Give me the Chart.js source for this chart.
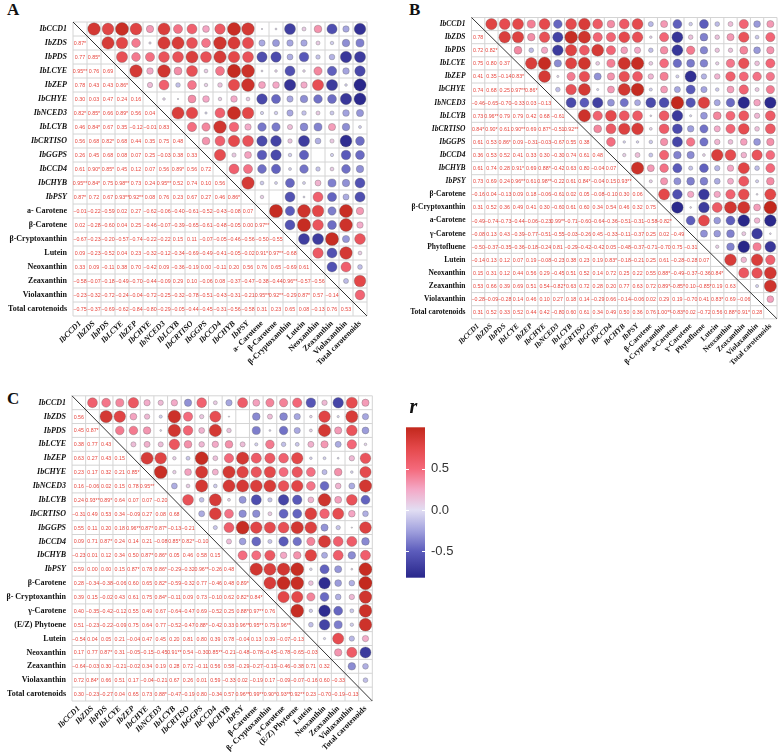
<!DOCTYPE html>
<html>
<head>
<meta charset="utf-8">
<script src="https://cdn.jsdelivr.net/npm/chart.js@4.4.1/dist/chart.umd.min.js"></script>
<style>
  body { margin: 0; background: #fff; width: 784px; height: 753px; position: relative; overflow: hidden; }
  canvas { position: absolute; }
  .tag { position: absolute; font: bold 17px "Liberation Serif", serif; color: #111; line-height: 17px; }
</style>
</head>
<body>
<div class="tag" style="left:7px;top:1px">A</div>
<div class="tag" style="left:409px;top:1px">B</div>
<div class="tag" style="left:7px;top:390px">C</div>
<canvas id="chartA" width="380" height="380" style="left:0;top:0"></canvas>
<canvas id="chartB" width="384" height="380" style="left:400px;top:0"></canvas>
<canvas id="chartC" width="385" height="368" style="left:0;top:385px"></canvas>
<canvas id="colorBar" width="85" height="200" style="left:395px;top:395px"></canvas>
<script>
// gene names shared by all three panels
const genes = ["IbCCD1", "IbZDS", "IbPDS", "IbLCYE", "IbZEP", "IbCHYE", "IbNCED3",
  "IbLCYB", "IbCRTISO", "IbGGPS", "IbCCD4", "IbCHYB", "IbPSY"];

const labelsA = genes.concat(["a- Carotene", "β-Carotene", "β-Cryptoxanthin", "Lutein",
  "Neoxanthin", "Zeaxanthin", "Violaxanthin", "Total carotenoids"]);
const labelsB = genes.concat(["β-Carotene", "β-Cryptoxanthin", "a-Carotene", "γ-Carotene",
  "Phytofluene", "Lutein", "Neoxanthin", "Zeaxanthin", "Violaxanthin", "Total carotenoids"]);
const labelsC = genes.concat(["β-Carotene", "β- Cryptoxanthin", "γ-Carotene", "(E/Z) Phytoene",
  "Lutein", "Neoxanthin", "Zeaxanthin", "Violaxanthin", "Total carotenoids"]);

// lower triangle, row by row, as printed (r value + significance stars)
const rowsA = [
  [],
  ["0.87*"],
  ["0.77", "0.85*"],
  ["0.95**", "0.76", "0.69"],
  ["0.78", "0.43", "0.43", "0.86*"],
  ["0.30", "0.03", "0.47", "0.24", "0.16"],
  ["0.82*", "0.85*", "0.66", "0.89*", "0.56", "0.04"],
  ["0.46", "0.84*", "0.67", "0.35", "-0.12", "-0.01", "0.83"],
  ["0.56", "0.68", "0.82*", "0.68", "0.44", "0.35", "0.75", "0.48"],
  ["0.26", "0.45", "0.68", "0.08", "0.07", "0.25", "-0.03", "0.38", "0.33"],
  ["0.61", "0.90*", "0.85*", "0.45", "0.12", "0.07", "0.56", "0.89*", "0.56", "0.72"],
  ["0.95**", "0.84*", "0.75", "0.98**", "0.73", "0.24", "0.95**", "0.52", "0.74", "0.10", "0.56"],
  ["0.87*", "0.72", "0.67", "0.93**", "0.92**", "0.08", "0.76", "0.23", "0.67", "0.27", "0.46", "0.86*"],
  ["-0.01", "-0.22", "-0.59", "0.02", "0.27", "-0.62", "-0.06", "-0.40", "-0.61", "-0.52", "-0.43", "-0.08", "0.07"],
  ["0.02", "-0.28", "-0.60", "0.04", "0.25", "-0.46", "-0.07", "-0.39", "-0.65", "-0.61", "-0.48", "-0.05", "0.00", "0.97**"],
  ["-0.67", "-0.23", "-0.20", "-0.57", "-0.74", "-0.22", "-0.22", "0.15", "0.11", "-0.07", "-0.05", "-0.46", "-0.56", "-0.50", "-0.55"],
  ["0.09", "-0.23", "-0.52", "0.04", "0.23", "-0.32", "-0.12", "-0.34", "-0.69", "-0.49", "-0.41", "-0.05", "-0.02", "0.91*", "0.97**", "-0.68"],
  ["0.33", "0.09", "-0.11", "0.38", "0.70", "-0.42", "0.09", "-0.36", "-0.19", "0.00", "-0.11", "0.20", "0.56", "0.76", "0.65", "-0.69", "0.61"],
  ["-0.58", "-0.07", "-0.18", "-0.49", "-0.70", "-0.44", "-0.09", "0.29", "0.10", "-0.06", "0.08", "-0.37", "-0.47", "-0.38", "-0.44", "0.96**", "-0.57", "-0.56"],
  ["-0.23", "-0.32", "-0.72", "-0.24", "-0.04", "-0.72", "-0.25", "-0.32", "-0.78", "-0.51", "-0.43", "-0.31", "-0.21", "0.95**", "0.92**", "-0.29", "0.87*", "0.57", "-0.14"],
  ["-0.75", "-0.37", "-0.69", "-0.62", "-0.84", "-0.80", "-0.29", "-0.05", "-0.44", "-0.45", "-0.31", "-0.56", "-0.58", "0.31", "0.23", "0.65", "0.08", "-0.13", "0.76", "0.53"]
];

const rowsB = [
  [],
  ["0.78"],
  ["0.72", "0.82*"],
  ["0.75", "0.80", "0.37"],
  ["0.41", "0.35", "-0.14", "0.83*"],
  ["0.74", "0.68", "0.25", "0.97**", "0.86*"],
  ["-0.46", "-0.65", "-0.70", "-0.33", "0.03", "-0.13"],
  ["0.73", "0.96**", "0.79", "0.79", "0.42", "0.68", "-0.61"],
  ["0.84*", "0.90*", "0.61", "0.90**", "0.69", "0.87*", "-0.51", "0.92**"],
  ["0.61", "0.53", "0.86*", "0.09", "-0.31", "-0.03", "-0.67", "0.55", "0.38"],
  ["0.36", "0.53", "0.52", "0.41", "0.33", "0.30", "-0.30", "0.74", "0.61", "0.48"],
  ["0.61", "0.74", "0.28", "0.91*", "0.69", "0.88*", "-0.42", "0.63", "0.80", "-0.04", "0.07"],
  ["0.73", "0.69", "0.24", "0.96**", "0.61", "0.98**", "-0.22", "0.61", "0.84*", "-0.04", "0.15", "0.93**"],
  ["-0.16", "0.04", "-0.13", "0.09", "0.18", "-0.06", "-0.61", "0.02", "0.05", "-0.08", "-0.10", "0.30", "0.06"],
  ["0.31", "0.52", "0.36", "0.49", "0.41", "0.30", "-0.60", "0.61", "0.60", "0.34", "0.54", "0.46", "0.32", "0.75"],
  ["-0.49", "-0.74", "-0.73", "-0.44", "-0.06", "-0.23", "0.99**", "-0.71", "-0.60", "-0.64", "-0.36", "-0.51", "-0.31", "-0.58", "-0.82*"],
  ["-0.08", "0.13", "0.43", "-0.39", "-0.77", "-0.51", "-0.55", "-0.03", "-0.26", "0.45", "-0.33", "-0.11", "-0.37", "0.25", "0.02", "-0.49"],
  ["-0.50", "-0.37", "-0.35", "-0.36", "-0.18", "-0.24", "0.81", "-0.29", "-0.42", "-0.42", "0.05", "-0.48", "-0.37", "-0.71", "-0.70", "0.75", "-0.31"],
  ["-0.14", "0.13", "0.12", "0.07", "0.19", "-0.08", "-0.23", "0.38", "0.23", "0.19", "0.83*", "-0.18", "-0.21", "0.25", "0.61", "-0.28", "-0.28", "0.07"],
  ["0.15", "0.31", "0.12", "0.44", "0.56", "0.29", "-0.45", "0.51", "0.52", "0.14", "0.72", "0.25", "0.22", "0.55", "0.88*", "-0.49", "-0.37", "-0.36", "0.84*"],
  ["0.53", "0.66", "0.39", "0.69", "0.51", "0.54", "-0.82*", "0.63", "0.72", "0.28", "0.20", "0.77", "0.63", "0.72", "0.89*", "-0.85*", "0.10", "-0.85*", "0.19", "0.63"],
  ["-0.28", "-0.09", "-0.28", "0.14", "0.46", "0.10", "0.27", "0.18", "0.14", "-0.29", "0.66", "-0.14", "-0.06", "0.02", "0.29", "0.19", "-0.70", "0.41", "0.83*", "0.69", "-0.06"],
  ["0.31", "0.52", "0.33", "0.52", "0.44", "0.42", "-0.80", "0.60", "0.61", "0.34", "0.49", "0.50", "0.36", "0.76", "1.00**", "-0.83*", "0.02", "-0.72", "0.56", "0.88*", "0.91*", "0.28"]
];

const rowsC = [
  [],
  ["0.56"],
  ["0.45", "0.87*"],
  ["0.38", "0.77", "0.43"],
  ["0.63", "0.27", "0.43", "0.15"],
  ["0.23", "0.17", "0.32", "0.21", "0.85*"],
  ["0.16", "-0.06", "0.02", "0.15", "0.78", "0.95**"],
  ["0.24", "0.93**", "0.89*", "0.64", "0.07", "0.07", "-0.20"],
  ["-0.31", "0.49", "0.53", "0.34", "-0.09", "0.27", "0.08", "0.68"],
  ["0.55", "0.11", "0.20", "0.18", "0.96**", "0.87*", "0.87*", "-0.13", "-0.21"],
  ["0.09", "0.71", "0.87*", "0.24", "0.14", "0.21", "-0.08", "0.85*", "0.82*", "-0.10"],
  ["-0.23", "0.01", "0.12", "0.34", "0.50", "0.87*", "0.86*", "0.05", "0.46", "0.58", "0.15"],
  ["0.59", "0.00", "0.00", "0.15", "0.87*", "0.78", "0.86*", "-0.29", "-0.32", "0.96**", "-0.26", "0.48"],
  ["0.28", "-0.34", "-0.38", "-0.06", "0.60", "0.65", "0.82*", "-0.59", "-0.32", "0.77", "-0.46", "0.48", "0.89*"],
  ["0.39", "0.15", "-0.02", "0.43", "0.61", "0.75", "0.84*", "-0.11", "0.09", "0.73", "-0.10", "0.62", "0.82*", "0.84*"],
  ["0.40", "-0.35", "-0.42", "-0.12", "0.55", "0.49", "0.67", "-0.64", "-0.47", "0.69", "-0.52", "0.25", "0.88*", "0.97**", "0.76"],
  ["0.51", "-0.23", "-0.22", "-0.09", "0.75", "0.64", "0.77", "-0.52", "-0.47", "0.88*", "-0.42", "0.33", "0.96**", "0.95**", "0.75", "0.96**"],
  ["-0.54", "0.04", "0.05", "0.21", "-0.04", "0.47", "0.45", "0.20", "0.81", "0.80", "0.39", "0.78", "-0.04", "0.13", "0.39", "-0.07", "-0.13"],
  ["0.17", "0.77", "0.87*", "0.31", "-0.05", "-0.15", "-0.45", "0.91**", "0.54", "-0.30", "0.85**", "-0.21", "-0.48", "-0.78", "-0.45", "-0.78", "-0.65", "-0.03"],
  ["-0.64", "-0.03", "0.30", "-0.21", "-0.02", "0.34", "0.19", "0.28", "0.72", "-0.11", "0.56", "0.58", "-0.29", "-0.27", "-0.19", "-0.46", "-0.38", "0.71", "0.32"],
  ["0.72", "0.84*", "0.66", "0.51", "0.17", "-0.04", "-0.21", "0.67", "0.26", "0.01", "0.59", "-0.33", "0.02", "-0.19", "0.17", "-0.09", "-0.07", "-0.16", "0.60", "-0.33"],
  ["0.30", "-0.23", "-0.27", "0.04", "0.65", "0.73", "0.88*", "-0.47", "-0.19", "0.80", "-0.34", "0.57", "0.96**", "0.99**", "0.90*", "0.93**", "0.92**", "0.23", "-0.70", "-0.19", "-0.13"]
];

const barTicks = [-0.5, 0, 0.5];

// blue - white - red colour ramp
const colorStops = [
  [-1.0, "#1c1a78"], [-0.8, "#2c2a8e"], [-0.5, "#5c5cbc"], [-0.25, "#a2a2de"],
  [0.0, "#e2def3"], [0.25, "#f4a8c6"], [0.5, "#f4687a"], [0.75, "#e4484a"], [1.0, "#c2281c"]
];

function hexToRgb(h) {
  return [1, 3, 5].map(i => parseInt(h.slice(i, i + 2), 16));
}

function corrColor(v) {
  for (let i = 1; i < colorStops.length; i++) {
    const [v1, c1] = colorStops[i - 1];
    const [v2, c2] = colorStops[i];
    if (v <= v2) {
      const t = Math.max(0, (v - v1) / (v2 - v1));
      const a = hexToRgb(c1), b = hexToRgb(c2);
      return "rgb(" + a.map((x, k) => Math.round(x + (b[k] - x) * t)).join(",") + ")";
    }
  }
  return colorStops[colorStops.length - 1][1];
}

// grid, diagonal and the printed numbers
const matrixPlugin = {
  id: "matrix",
  beforeDatasetsDraw(chart, args, opts) {
    const { ctx, scales: { x, y } } = chart;
    const n = opts.labels.length;
    const x0 = x.getPixelForValue(-0.5), x1 = x.getPixelForValue(n - 0.5);
    const y0 = y.getPixelForValue(-0.5), y1 = y.getPixelForValue(n - 0.5);
    ctx.save();
    ctx.strokeStyle = "#d4d4d4";
    ctx.lineWidth = 1;
    for (let k = 0; k <= n; k++) {
      const px = x.getPixelForValue(k - 0.5);
      const py = y.getPixelForValue(k - 0.5);
      ctx.beginPath(); ctx.moveTo(px, y0); ctx.lineTo(px, y1); ctx.stroke();
      ctx.beginPath(); ctx.moveTo(x0, py); ctx.lineTo(x1, py); ctx.stroke();
    }
    ctx.restore();
  },
  afterDatasetsDraw(chart, args, opts) {
    const { ctx, scales: { x, y } } = chart;
    const n = opts.labels.length;
    ctx.save();
    ctx.strokeStyle = "#333";
    ctx.lineWidth = 1;
    ctx.beginPath();
    ctx.moveTo(x.getPixelForValue(-0.5), y.getPixelForValue(-0.5));
    ctx.lineTo(x.getPixelForValue(n - 0.5), y.getPixelForValue(n - 0.5));
    ctx.stroke();
    ctx.fillStyle = "#e8463e";
    ctx.font = '5.3px "Liberation Sans", Arial';
    ctx.textAlign = "center";
    ctx.textBaseline = "middle";
    opts.rows.forEach((row, i) => {
      row.forEach((txt, j) => {
        ctx.fillText(txt.replace("-", "\u2212"), x.getPixelForValue(j), y.getPixelForValue(i) + 0.5);
      });
    });
    ctx.restore();
  }
};

function makeMatrix(id, labels, rows, g) {
  const n = labels.length;
  const points = [], fills = [];
  for (let j = 1; j < n; j++) {
    for (let i = 0; i < j; i++) {
      const v = parseFloat(rows[j][i]);
      points.push({ x: j, y: i, r: Math.sqrt(Math.abs(v)) * g.rMax });
      fills.push(corrColor(v));
    }
  }
  const tickFont = ctx => ({
    family: '"Liberation Serif", "Times New Roman", serif',
    size: g.font,
    weight: "bold",
    style: ctx.index < genes.length ? "italic" : "normal"
  });
  const axis = (extra) => Object.assign({
    type: "linear",
    min: -0.5,
    max: n - 0.5,
    grid: { display: false, drawTicks: false },
    border: { display: false },
    afterBuildTicks: s => { s.ticks = labels.map((_, i) => ({ value: i })); }
  }, extra);

  return new Chart(document.getElementById(id), {
    type: "bubble",
    data: {
      datasets: [{
        data: points,
        backgroundColor: fills,
        borderColor: "rgba(95,95,95,0.55)",
        borderWidth: 0.6
      }]
    },
    options: {
      responsive: false,
      animation: false,
      events: [],
      layout: { padding: { top: g.top, right: g.right, left: 0, bottom: 0 } },
      plugins: {
        legend: { display: false },
        tooltip: { enabled: false },
        matrix: { labels: labels, rows: rows }
      },
      scales: {
        x: axis({
          position: "bottom",
          afterFit: s => { s.height = g.xh; },
          ticks: { autoSkip: false, color: "#111", font: tickFont, minRotation: 45, maxRotation: 45, padding: 3,
                   callback: v => labels[Math.round(v)] }
        }),
        y: axis({
          position: "left",
          reverse: true,
          afterFit: s => { s.width = g.yw; },
          ticks: { autoSkip: false, color: "#111", font: tickFont, padding: 6,
                   callback: v => labels[Math.round(v)] }
        })
      }
    },
    plugins: [matrixPlugin]
  });
}

makeMatrix("chartA", labelsA, rowsA, { top: 22, right: 13, yw: 73, xh: 64, font: 8, rMax: 6.7 });
makeMatrix("chartB", labelsB, rowsB, { top: 17.5, right: 2, yw: 71.5, xh: 61.2, font: 7.5, rMax: 6.4 });
makeMatrix("chartC", labelsC, rowsC, { top: 8, right: 12.7, yw: 72, xh: 52, font: 8, rMax: 6.6 });

// colour bar legend
const barPlugin = {
  id: "bar",
  beforeDatasetsDraw(chart) {
    const { ctx, chartArea: a, scales: { y } } = chart;
    const grad = ctx.createLinearGradient(0, y.getPixelForValue(1), 0, y.getPixelForValue(-1));
    colorStops.forEach(([v, c]) => grad.addColorStop((1 - v) / 2, c));
    ctx.save();
    ctx.fillStyle = grad;
    ctx.fillRect(a.left, a.top, a.right - a.left, a.bottom - a.top);
    ctx.strokeStyle = "#fff";
    ctx.lineWidth = 1;
    barTicks.forEach(v => {
      const py = Math.round(y.getPixelForValue(v)) + 0.5;
      ctx.beginPath(); ctx.moveTo(a.left, py); ctx.lineTo(a.left + 3, py); ctx.stroke();
      ctx.beginPath(); ctx.moveTo(a.right - 3, py); ctx.lineTo(a.right, py); ctx.stroke();
    });
    ctx.fillStyle = "#111";
    ctx.font = 'italic bold 20px "Liberation Serif", serif';
    ctx.textAlign = "center";
    ctx.fillText("r", (a.left + a.right) / 2 - 2, a.top - 14);
    ctx.restore();
  }
};

new Chart(document.getElementById("colorBar"), {
  type: "scatter",
  data: { datasets: [{ data: [] }] },
  options: {
    responsive: false,
    animation: false,
    events: [],
    layout: { padding: { top: 32.3, bottom: 17.3, left: 11, right: 0 } },
    plugins: { legend: { display: false }, tooltip: { enabled: false } },
    scales: {
      x: { display: false, min: 0, max: 1 },
      y: {
        position: "right",
        min: -0.82,
        max: 1.0,
        grid: { display: false, drawTicks: false },
        border: { display: false },
        afterFit: s => { s.width = 55; },
        afterBuildTicks: s => { s.ticks = barTicks.map(v => ({ value: v })); },
        ticks: {
          padding: 6,
          color: "#333",
          font: { family: '"Liberation Sans Narrow", "Liberation Sans", Arial', size: 13 },
          callback: v => v.toFixed(1)
        }
      }
    }
  }
  ,
  plugins: [barPlugin]
});
</script>
</body>
</html>
